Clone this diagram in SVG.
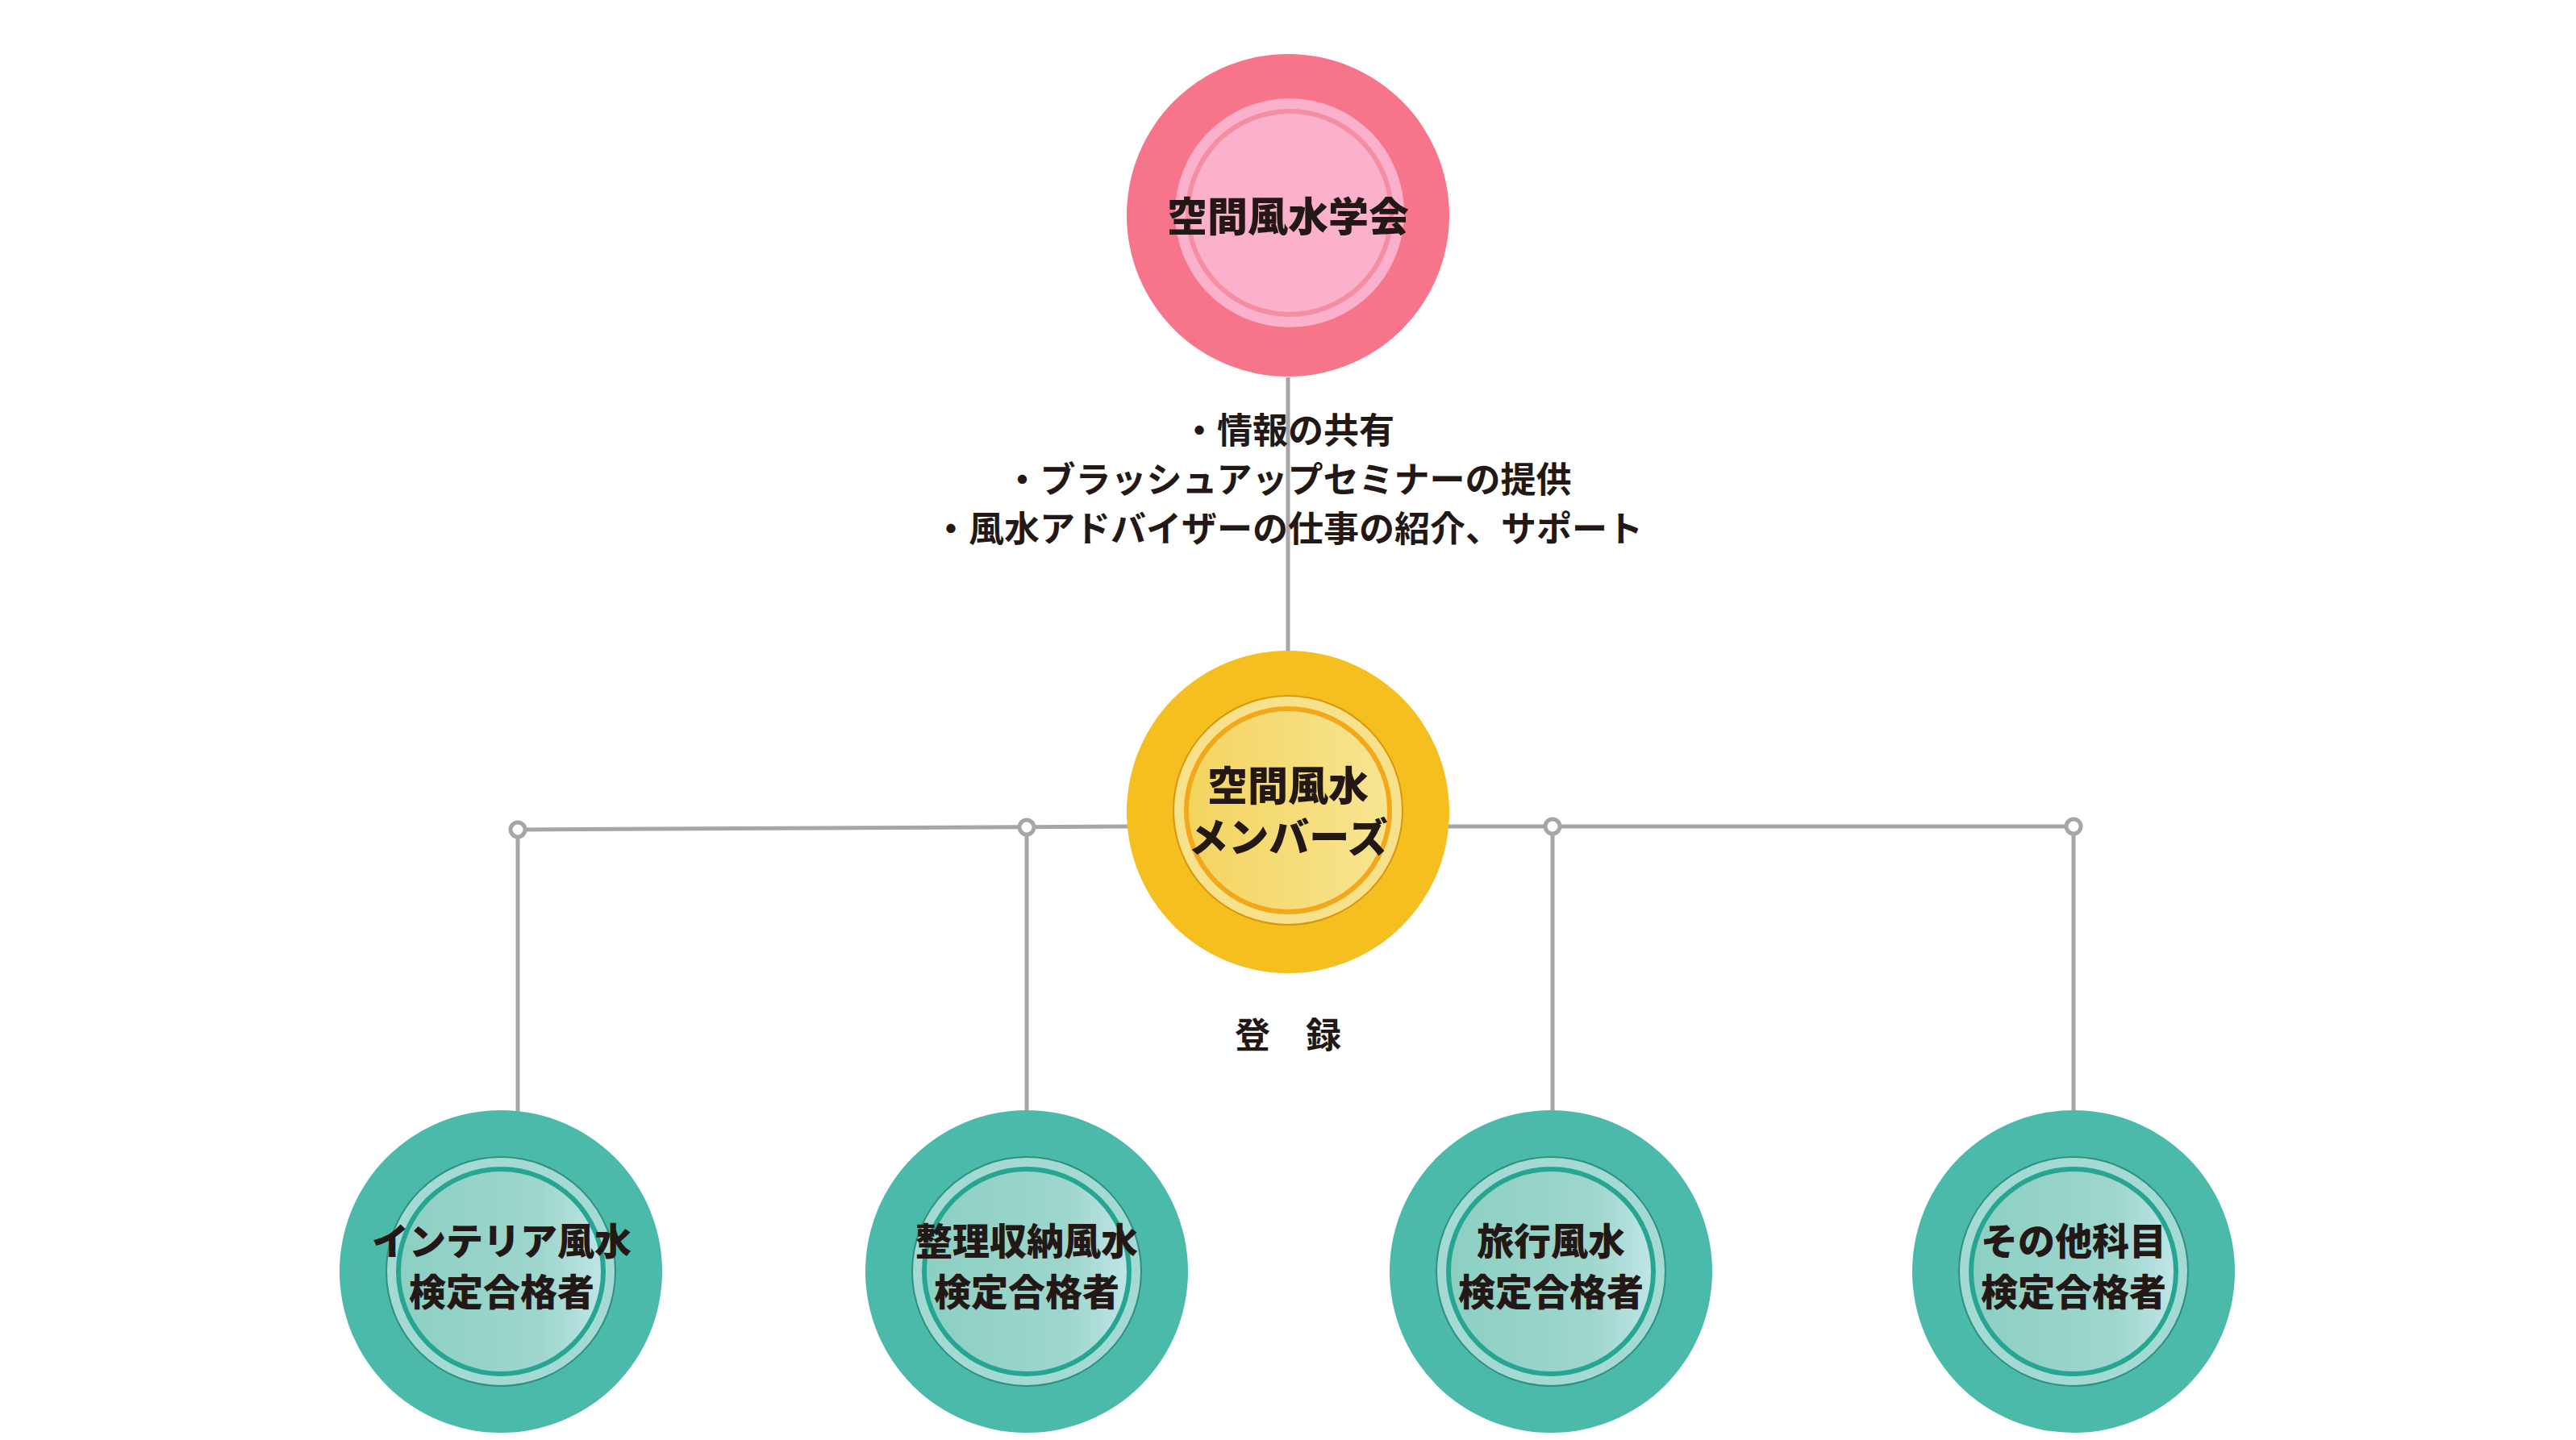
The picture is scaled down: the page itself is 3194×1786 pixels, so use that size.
<svg xmlns="http://www.w3.org/2000/svg" width="3194" height="1786" viewBox="0 0 3194 1786">
<style>
.ln{stroke:#a6a6a6;stroke-width:5;fill:none}
.dot{stroke:#a6a6a6;stroke-width:5;fill:#fff}
.lbl{font-family:"Noto Sans CJK JP",sans-serif;font-weight:900;font-size:50px;fill:#231815;text-anchor:middle}
.lbs{font-family:"Noto Sans CJK JP",sans-serif;font-weight:900;font-size:46px;fill:#231815;text-anchor:middle}
.txt{font-family:"Noto Sans CJK JP",sans-serif;font-weight:600;font-size:44px;fill:#231815;text-anchor:middle}
</style>
<defs>
<linearGradient id="gy" x1="0" y1="0" x2="1" y2="0"><stop offset="0" stop-color="#f4d45f"/><stop offset="1" stop-color="#f8e592"/></linearGradient>
<linearGradient id="gt" x1="0" y1="0" x2="1" y2="0"><stop offset="0" stop-color="#8ccfc3"/><stop offset="0.7" stop-color="#9ed6cd"/><stop offset="1" stop-color="#bfe6e6"/></linearGradient>
<g id="teal">
<circle r="200" fill="#4bbaab"/>
<circle r="142" fill="#a3dad3" stroke="#2f8f83" stroke-width="2"/>
<circle r="127" fill="url(#gt)" stroke="#26a692" stroke-width="6"/>
</g>
</defs>
<rect width="3194" height="1786" fill="#fff"/>
<g id="connectors">
<line class="ln" x1="1597" y1="468" x2="1597" y2="808"/>
<polyline class="ln" points="642,1029 1400,1025"/>
<line class="ln" x1="1795" y1="1025" x2="2571" y2="1025"/>
<line class="ln" x1="642" y1="1029" x2="642" y2="1380"/>
<line class="ln" x1="1273" y1="1026" x2="1273" y2="1380"/>
<line class="ln" x1="1925" y1="1025" x2="1925" y2="1380"/>
<line class="ln" x1="2571" y1="1025" x2="2571" y2="1380"/>
<circle class="dot" cx="642" cy="1029" r="9"/>
<circle class="dot" cx="1273" cy="1026" r="9"/>
<circle class="dot" cx="1925" cy="1025" r="9"/>
<circle class="dot" cx="2571" cy="1025" r="9"/>
</g>
<g id="text-benefits">
<text class="txt" x="1597" y="550">・情報の共有</text>
<text class="txt" x="1597" y="611">・ブラッシュアップセミナーの提供</text>
<text class="txt" x="1597" y="672">・風水アドバイザーの仕事の紹介、サポート</text>
</g>
<g id="text-register"><text class="txt" x="1597" y="1300">登　録</text></g>
<g id="node-top">
<circle cx="1597" cy="267" r="200" fill="#f6758a"/>
<circle cx="1599" cy="264" r="142" fill="#fbb0cc"/>
<circle cx="1599" cy="264" r="126" fill="#fbb0cc" stroke="#f58ea5" stroke-width="6"/>
<text class="lbl" x="1597" y="287">空間風水学会</text>
</g>
<g id="node-mid">
<circle cx="1597" cy="1007" r="200" fill="#f4bf1f"/>
<circle cx="1597" cy="1005" r="142" fill="#f7e18a" stroke="#d8960f" stroke-width="2"/>
<circle cx="1597" cy="1005" r="126" fill="url(#gy)" stroke="#f3a81b" stroke-width="6"/>
<text class="lbl" x="1597" y="993">空間風水</text>
<text class="lbl" x="1597" y="1057">メンバーズ</text>
</g>
<g id="node-interior">
<use href="#teal" x="621" y="1577"/>
<text class="lbs" x="622" y="1556">インテリア風水</text>
<text class="lbs" x="622" y="1619">検定合格者</text>
</g>
<g id="node-seiri">
<use href="#teal" x="1273" y="1577"/>
<text class="lbs" x="1273" y="1556">整理収納風水</text>
<text class="lbs" x="1273" y="1619">検定合格者</text>
</g>
<g id="node-ryoko">
<use href="#teal" x="1923" y="1577"/>
<text class="lbs" x="1923" y="1556">旅行風水</text>
<text class="lbs" x="1923" y="1619">検定合格者</text>
</g>
<g id="node-other">
<use href="#teal" x="2571" y="1577"/>
<text class="lbs" x="2571" y="1556">その他科目</text>
<text class="lbs" x="2571" y="1619">検定合格者</text>
</g>
</svg>
